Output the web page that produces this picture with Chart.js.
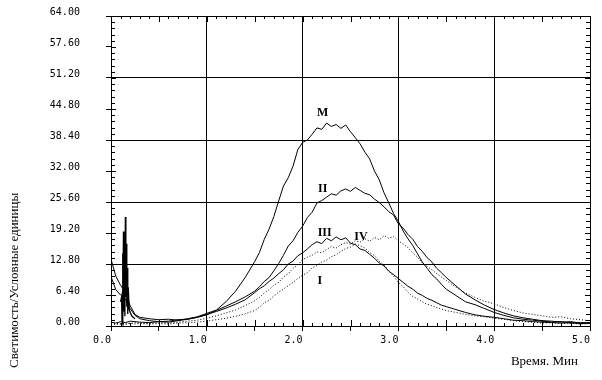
<!DOCTYPE html>
<html><head><meta charset="utf-8">
<script src="https://cdn.jsdelivr.net/npm/chart.js@4"></script>
<style>html,body{margin:0;padding:0;background:#fff}#wrap{width:602px;height:380px;position:relative}</style>
</head><body><div id="wrap"><canvas id="c" width="602" height="380"></canvas></div>
<script>
// time, minutes
const times = [0,0.05,0.1,0.15,0.2,0.25,0.3,
  0.4,0.5,0.6,0.7,0.8,0.9,1.0,1.1,1.2,1.3,1.4,
  1.5,1.55,1.6,1.65,1.7,1.75,1.8,1.85,1.9,1.95,2.0,2.05,2.1,2.15,2.2,2.25,2.3,2.35,2.4,2.45,
  2.5,2.55,2.6,2.65,2.7,2.75,2.8,2.85,2.9,2.95,3.0,3.05,3.1,3.15,3.2,3.25,3.3,3.35,3.4,3.45,3.5,
  3.6,3.7,3.8,3.9,4.0,4.1,4.2,4.3,4.4,4.5,4.6,4.7,4.8,4.9,5.0];

const seriesM = [13.8,10.3,8.4,7.0,4.2,2.4,1.8,
  1.5,1.3,1.4,1.2,1.5,1.9,2.6,3.3,5.0,7.2,10.0,
  13.3,15.2,17.9,20.0,22.6,25.8,28.9,30.6,33.0,36.4,37.9,38.4,39.6,40.9,40.6,41.9,41.2,41.6,40.8,41.5,
  40.1,38.9,37.6,35.9,34.5,32.0,30.2,27.5,25.4,23.2,21.6,19.6,18.0,16.6,14.9,13.2,11.9,10.6,9.7,8.6,7.6,
  6.3,5.0,4.4,3.6,2.8,2.2,1.7,1.4,1.2,1.0,0.8,0.9,0.6,0.7,0.6];

const seriesII = [10.2,7.5,6.4,5.6,3.6,2.2,1.5,
  1.1,0.9,1.0,1.3,1.4,1.8,2.3,3.2,4.1,5.0,6.0,
  7.2,8.1,9.2,10.0,11.4,12.9,14.6,16.5,17.6,19.3,20.6,22.4,23.5,25.4,25.9,26.6,27.3,27.0,27.9,28.3,
  27.8,28.6,28.0,27.4,27.1,26.2,25.5,24.6,23.6,22.9,21.1,20.2,18.9,17.9,16.4,15.4,14.1,13.2,11.9,11.0,10.0,
  8.3,6.6,5.4,4.3,3.4,2.7,2.1,1.7,1.4,1.1,1.0,0.8,0.9,0.6,0.7];

const seriesIII = [0.8,0.6,0.9,0.7,1.0,0.9,0.8,
  0.7,0.9,0.8,1.1,1.4,1.8,2.4,3.0,3.7,4.5,5.4,
  6.9,7.7,8.3,9.2,9.9,10.8,11.6,12.8,13.4,14.5,15.1,15.9,16.8,17.4,17.0,18.1,17.6,18.4,17.8,18.2,
  17.1,16.8,15.9,15.6,14.8,14.0,13.0,12.4,11.3,10.6,9.8,9.0,8.2,7.6,6.8,6.3,5.7,5.3,4.8,4.3,4.0,
  3.4,2.8,2.3,2.0,1.8,1.5,1.2,1.1,0.9,0.8,0.7,0.6,0.7,0.5,0.6];

const seriesIV = [0.5,0.6,0.4,0.6,0.5,0.7,0.6,
  0.5,0.7,0.6,0.8,1.0,1.2,1.6,2.1,2.7,3.3,4.2,
  5.2,5.9,6.8,7.5,8.4,9.0,10.1,10.8,11.9,12.6,13.7,14.2,14.6,15.3,15.1,15.8,16.4,16.1,16.8,17.2,
  16.9,17.6,17.3,18.0,17.5,18.3,17.8,18.6,18.1,18.5,17.6,16.9,16.2,15.1,14.2,13.0,12.3,11.6,10.8,10.1,9.4,
  8.0,6.8,5.9,5.1,4.6,3.8,3.2,2.7,2.4,2.1,1.8,1.9,1.5,1.3,1.1];

const seriesI = [0.4,0.3,0.5,0.3,0.6,0.4,0.5,
  0.4,0.5,0.4,0.6,0.7,0.8,1.0,1.3,1.6,2.0,2.5,
  3.2,3.9,4.8,5.3,6.2,7.0,7.6,8.3,9.0,9.8,10.5,11.0,12.0,12.5,13.2,13.6,14.3,14.7,15.4,16.0,
  16.3,16.9,16.6,16.1,15.2,14.5,13.4,12.6,11.4,10.3,9.0,8.1,7.0,6.1,5.6,5.0,4.5,4.2,3.8,3.5,3.2,
  2.8,2.4,2.1,1.9,1.6,1.4,1.1,0.9,0.8,0.6,0.7,0.5,0.6,0.4,0.5];

// early flash spike
const spikeTimes = [0.10,0.11,0.115,0.12,0.125,0.13,0.135,0.14,0.145,0.15,0.155,0.16,0.165,0.17,0.175,0.18,0.19,0.2,0.22,0.25];
const spikeValues = [5.0,6.0,1.0,15.0,0.5,19.5,3.0,18.0,2.0,22.5,6.0,17.0,4.0,12.0,2.5,8.0,3.5,2.8,2.0,1.5];

const xTickLabels = ['0.0','1.0','2.0','3.0','4.0','5.0'];
const yTickLabels = ['0.00','6.40','12.80','19.20','25.60','32.00','38.40','44.80','51.20','57.60','64.00'];

const curveNames = ['M','II','III','IV','I'];
const curveLabelTimes = [2.21,2.21,2.23,2.61,2.18];
const curveLabelValues = [44.0,28.3,19.2,18.4,9.3];

const yTitle = 'Светимость/Условные единицы';
const xTitle = 'Время. Мин';

function pts(xs, ys){ return xs.map((t,i)=>({x:t,y:ys[i]})); }

const frameAndText = {
  id:'frameAndText',
  afterDraw(chart){
    const {ctx, chartArea:a, scales:{x,y}} = chart;
    ctx.save();
    ctx.strokeStyle='#000'; ctx.lineWidth=1;
    ctx.beginPath();
    for(let i=0;i<=50;i++){
      const px=Math.round(x.getPixelForValue(i/10))+0.5; const len=i%5===0?6:3;
      ctx.moveTo(px,a.bottom); ctx.lineTo(px,a.bottom-len);
      ctx.moveTo(px,a.top); ctx.lineTo(px,a.top+len);
    }
    for(let i=0;i<=50;i++){
      const py=Math.round(y.getPixelForValue(i*1.28))+0.5; const len=i%5===0?5:4;
      ctx.moveTo(a.left,py); ctx.lineTo(a.left+len,py);
      ctx.moveTo(a.right,py); ctx.lineTo(a.right-len,py);
    }
    ctx.stroke();
    ctx.fillStyle='#000';
    ctx.font='bold 12px "Liberation Serif"';
    ctx.textAlign='center'; ctx.textBaseline='middle';
    curveNames.forEach((n,i)=>{
      ctx.fillText(n, x.getPixelForValue(curveLabelTimes[i]), y.getPixelForValue(curveLabelValues[i]));
    });
    ctx.font='13px "Liberation Serif"';
    ctx.textAlign='right'; ctx.textBaseline='middle';
    ctx.fillText(xTitle, a.right-12, a.bottom+36);
    ctx.translate(15, a.bottom+42);
    ctx.rotate(-Math.PI/2);
    ctx.textAlign='left';
    ctx.fillText(yTitle, 0, 0);
    ctx.restore();
  }
};

const lineStyle = {borderColor:'#000', borderWidth:1, pointRadius:0, tension:0, fill:false};

new Chart(document.getElementById('c'), {
  type:'line',
  data:{datasets:[
    Object.assign({label:'M', data:pts(times,seriesM)}, lineStyle),
    Object.assign({label:'II', data:pts(times,seriesII)}, lineStyle),
    Object.assign({label:'III', data:pts(times,seriesIII)}, lineStyle),
    Object.assign({label:'IV', data:pts(times,seriesIV), borderDash:[1,2]}, lineStyle),
    Object.assign({label:'I', data:pts(times,seriesI), borderDash:[1,2]}, lineStyle),
    Object.assign({label:'spike', data:pts(spikeTimes,spikeValues)}, lineStyle, {borderWidth:1.3})
  ]},
  options:{
    responsive:false, animation:false, devicePixelRatio:1,
    layout:{padding:{left:0,top:16,right:12,bottom:0}},
    plugins:{legend:{display:false}, tooltip:{enabled:false}},
    scales:{
      x:{type:'linear', min:0, max:5,
        afterFit(s){ s.height=54; },
        ticks:{stepSize:0.5, autoSkip:false, maxRotation:0, align:'end', padding:3, color:'#000',
          font:{family:'"DejaVu Sans Mono"', size:10},
          callback:(v,i)=> i%2===0 ? xTickLabels[i/2] : ''},
        grid:{color:c=>(c.tick && Math.abs(c.tick.value-Math.round(c.tick.value))<1e-6)?'#000':'rgba(0,0,0,0)',
          tickColor:'#000', tickLength:5, lineWidth:1},
        border:{display:true,color:'#000',width:1}
      },
      y:{type:'linear', min:0, max:64,
        afterFit(s){ s.width=111; },
        ticks:{stepSize:6.4, autoSkip:false, padding:2, color:'#000',
          font:{family:'"DejaVu Sans Mono"', size:10, lineHeight:0.8},
          callback:(v,i)=>[yTickLabels[i] + '    ', '']},
        grid:{color:c=>{ if(!c.tick) return 'rgba(0,0,0,0)'; const r=c.tick.value/12.8; return Math.abs(r-Math.round(r))<1e-6?'#000':'rgba(0,0,0,0)'; },
          tickColor:'#000', tickLength:5, lineWidth:1},
        border:{display:true,color:'#000',width:1}
      }
    }
  },
  plugins:[frameAndText]
});
</script></body></html>
